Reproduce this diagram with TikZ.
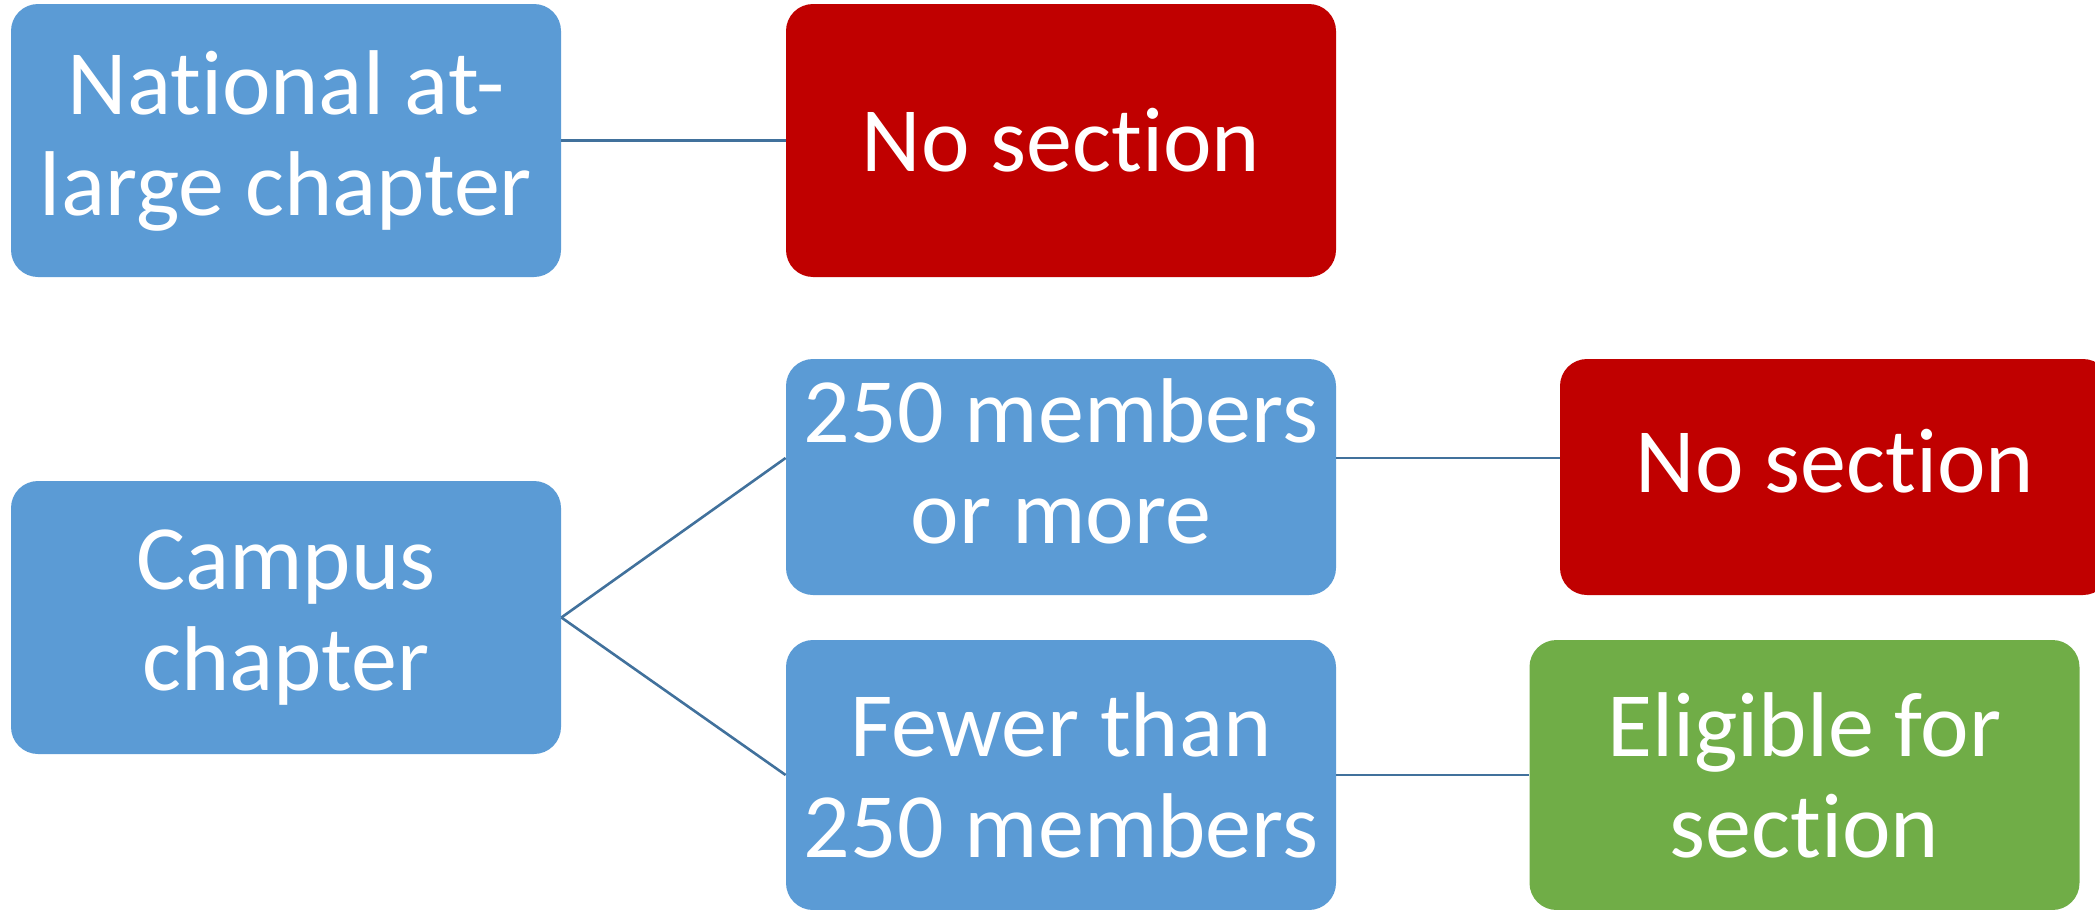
\documentclass[tikz,border=0pt]{standalone}
\usepackage{fontspec}
\setmainfont{Carlito}[RawFeature={-liga;-clig;-dlig;-calt;-rlig;-hlig}]
\usepackage{xcolor}
\usepackage{tikz}
\usetikzlibrary{positioning}

\definecolor{chapblue}{HTML}{5B9BD5}
\definecolor{nored}{HTML}{C00000}
\definecolor{yesgreen}{HTML}{70AD47}
\definecolor{linkblue}{HTML}{41719C}

\begin{document}
\begin{tikzpicture}[x=0.5pt, y=-0.5pt,
box/.style={rectangle, rounded corners=13.5pt, inner sep=0pt, minimum width=275pt, text=white, align=center, font=\fontsize{46}{50.5}\selectfont},
tall/.style={box, minimum height=136.5pt},
short/.style={box, minimum height=118pt, text depth=16pt},
link/.style={draw=linkblue, line width=1.3pt}
]
\useasboundingbox (0,0) rectangle (2095,910);

% First column
\node[tall, fill=chapblue] (national) at (286,140.5) {National at-\\large chapter};
\node[tall, fill=chapblue] (campus) at (286,617.5) {Campus\\chapter};

% Second column
\node[tall, fill=nored] (nosecA) at (1061,140.5) {No section};
\node[short, fill=chapblue] (many) at (1061,477) {250 members\\or more};
\node[box, minimum height=135pt, fill=chapblue] (fewer) at (1061,775) {Fewer than\\250 members};

% Third column
\node[short, fill=nored] (nosecB) at (1835,477) {No section};
\node[box, minimum height=135pt, fill=yesgreen] (eligible) at (1804.5,775) {Eligible for\\section};

% Connectors
\draw[link] (national.east) -- (nosecA.west);
\draw[link] (campus.east) -- ([yshift=9.5pt]many.west);
\draw[link] (campus.east) -- (fewer.west);
\draw[link] ([yshift=9.5pt]many.east) -- ([yshift=9.5pt]nosecB.west);
\draw[link] (fewer.east) -- (eligible.west);

\end{tikzpicture}
\end{document}
